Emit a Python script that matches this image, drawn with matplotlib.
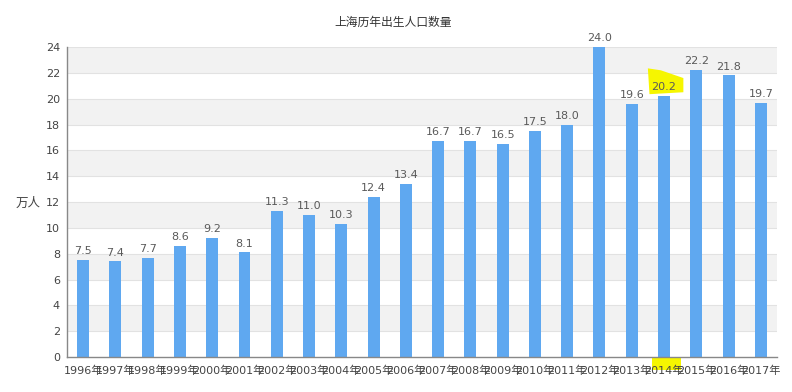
import matplotlib
matplotlib.use('Agg')
import matplotlib.pyplot as plt
from matplotlib.patches import Polygon, Rectangle
from matplotlib.transforms import blended_transform_factory

plt.rcParams['font.family'] = ['DejaVu Sans', 'Noto Sans CJK SC']

years = list(range(1996, 2018))
labels = [f'{y}年' for y in years]
births = [7.5, 7.4, 7.7, 8.6, 9.2, 8.1, 11.3, 11.0, 10.3, 12.4, 13.4,
          16.7, 16.7, 16.5, 17.5, 18.0, 24.0, 19.6, 20.2, 22.2, 21.8, 19.7]
yticks = list(range(0, 26, 2))

fig = plt.figure(figsize=(7.92, 3.92), dpi=100, facecolor='white')
ax = fig.add_axes([0.0846, 0.0893, 0.8964, 0.7907])
ax.set_facecolor('none')

x = list(range(len(years)))

# alternating bands + grid lines
for lo in range(2, 24, 4):
    ax.axhspan(lo, lo + 2, color='#f2f2f2', zorder=0, lw=0)
for t in yticks[1:]:
    ax.axhline(t, color='#e2e2e2', lw=0.8, zorder=0.5)

bars = ax.bar(x, births, width=0.37, color='#5fa8f0', zorder=2)
for xi, v in zip(x, births):
    ax.text(xi, v + 0.3, f'{v:.1f}', ha='center', va='bottom',
            fontsize=8, color='#5a5a5a', zorder=4)

ax.set_xlim(-0.5, len(years) - 0.5)
ax.set_ylim(0, 24)
ax.set_yticks(yticks)
ax.set_xticks(x)
ax.set_xticklabels(labels)
ax.tick_params(axis='both', length=0, labelsize=8, colors='#444444')
ax.tick_params(axis='x', pad=6)
ax.tick_params(axis='y', pad=5)
for s in ['top', 'right']:
    ax.spines[s].set_visible(False)
for s in ['left', 'bottom']:
    ax.spines[s].set_color('#888888')
    ax.spines[s].set_linewidth(1)

ax.set_ylabel('万人', rotation=0, fontsize=9, color='#444444',
              va='center', ha='center')
ax.yaxis.set_label_coords(-0.055, 0.497)
fig.text(0.497, 0.944, '上海历年出生人口数量', ha='center', va='center',
         fontsize=8.5, color='#333333')

# yellow highlighter marks around 2014
i14 = years.index(2014)
hl = Polygon([(i14 - 0.5, 22.35), (i14 - 0.1, 22.2), (i14 + 0.6, 21.6),
              (i14 + 0.6, 20.5), (i14 - 0.45, 20.35)],
             closed=True, facecolor='#f6f600', edgecolor='none', zorder=3)
ax.add_patch(hl)
trans = blended_transform_factory(ax.transData, ax.transAxes)
hl2 = Rectangle((i14 - 0.38, -0.042), 0.9, 0.04, transform=trans,
                facecolor='#f6f600', edgecolor='none', zorder=1,
                clip_on=False)
ax.add_patch(hl2)

fig.savefig('out.png', dpi=100, facecolor='white')
